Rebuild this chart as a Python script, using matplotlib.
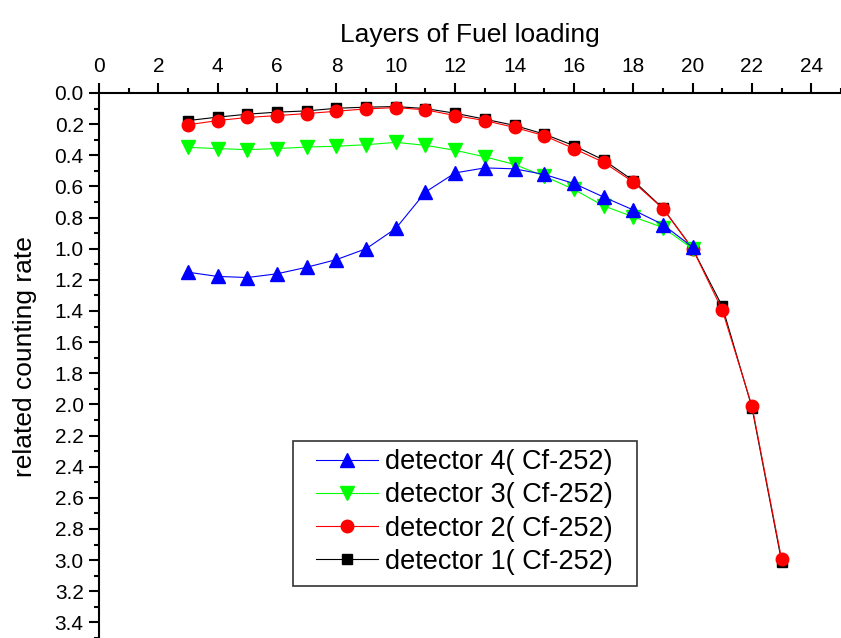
import matplotlib
matplotlib.use("Agg")
import matplotlib.pyplot as plt
from matplotlib.ticker import MultipleLocator
from matplotlib.patches import Rectangle

plt.rcParams['font.family'] = ['Liberation Sans', 'DejaVu Sans']

layers_long = [3, 4, 5, 6, 7, 8, 9, 10, 11, 12, 13, 14, 15, 16, 17, 18, 19, 20, 21, 22, 23]
layers_short = [3, 4, 5, 6, 7, 8, 9, 10, 11, 12, 13, 14, 15, 16, 17, 18, 19, 20]

det1 = [0.177, 0.155, 0.136, 0.123, 0.115, 0.098, 0.091, 0.087, 0.100, 0.130, 0.168,
        0.208, 0.264, 0.338, 0.430, 0.562, 0.740, 1.000, 1.370, 2.020, 3.010]
det2 = [0.204, 0.177, 0.157, 0.145, 0.132, 0.117, 0.102, 0.094, 0.108, 0.145, 0.177,
        0.221, 0.274, 0.357, 0.445, 0.572, 0.742, 1.000, 1.395, 2.010, 2.995]
det3 = [0.349, 0.357, 0.364, 0.357, 0.347, 0.342, 0.332, 0.317, 0.336, 0.368, 0.410,
        0.459, 0.534, 0.619, 0.725, 0.795, 0.864, 1.000]
det4 = [1.151, 1.178, 1.185, 1.161, 1.119, 1.070, 1.000, 0.870, 0.636, 0.513, 0.481,
        0.487, 0.523, 0.581, 0.668, 0.751, 0.845, 0.990]

labels = ["detector 1( Cf-252)", "detector 2( Cf-252)",
          "detector 3( Cf-252)", "detector 4( Cf-252)"]

fig = plt.figure(figsize=(8.41, 6.38), dpi=100)
ax = fig.add_axes([99 / 841, 0, 742 / 841, 545 / 638])

l1, = ax.plot(layers_long, det1, color='black', marker='s', markersize=7, lw=0.8, label=labels[0])
l2, = ax.plot(layers_long, det2, color='red', marker='o', markersize=9, lw=0.8, label=labels[1])
l3, = ax.plot(layers_short, det3, color='#00ff00', marker='v', markersize=10, lw=0.8, label=labels[2])
l4, = ax.plot(layers_short, det4, color='blue', marker='^', markersize=10, lw=0.8, label=labels[3])

ax.set_xlim(0, 25)
ax.set_ylim(3.5, 0)
ax.xaxis.tick_top()
ax.xaxis.set_label_position('top')
ax.xaxis.set_major_locator(MultipleLocator(2))
ax.xaxis.set_minor_locator(MultipleLocator(1))
ax.yaxis.set_major_locator(MultipleLocator(0.2))
ax.yaxis.set_minor_locator(MultipleLocator(0.1))
ax.yaxis.set_major_formatter(matplotlib.ticker.FormatStrFormatter('%.1f'))

for s in ['right', 'bottom']:
    ax.spines[s].set_visible(False)
for s in ['left', 'top']:
    ax.spines[s].set_linewidth(1.5)

ax.tick_params(which='major', direction='out', length=7, width=1.5, labelsize=15)
ax.tick_params(which='minor', direction='out', length=3.5, width=1.5)
ax.tick_params(axis='x', which='both', pad=5)
ax.tick_params(axis='y', which='both', pad=4)

ax.set_xlabel("Layers of Fuel loading", fontsize=19, labelpad=11)
ax.set_ylabel("related counting rate", fontsize=19)
ax.yaxis.set_label_coords(-0.084, 0.5156)

# legend frame drawn separately so its padding can match the reference
ax.add_patch(Rectangle((0.2615, 0.0954), 0.7251 - 0.2615, 0.3615 - 0.0954,
                       transform=ax.transAxes, fill=True, facecolor='white',
                       edgecolor='#333333', linewidth=1.2, zorder=4))
leg = ax.legend(handles=[l4, l3, l2, l1], loc='upper left',
                bbox_to_anchor=(0.2925, 0.3468), fontsize=19.5, frameon=False,
                handlelength=2.3, handletextpad=0.26, labelspacing=0.27,
                borderpad=0, borderaxespad=0)
leg.set_zorder(5)

fig.savefig("out.png", dpi=100)
